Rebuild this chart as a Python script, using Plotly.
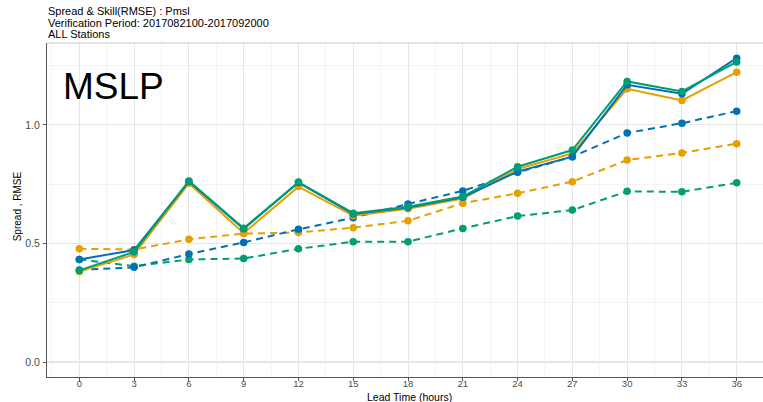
import plotly.graph_objects as go

lead = [0, 3, 6, 9, 12, 15, 18, 21, 24, 27, 30, 33, 36]

rmse_blue = [0.433, 0.473, 0.762, 0.562, 0.757, 0.625, 0.652, 0.695, 0.803, 0.866, 1.169, 1.131, 1.281]
rmse_orange = [0.382, 0.454, 0.754, 0.544, 0.740, 0.617, 0.647, 0.690, 0.814, 0.880, 1.152, 1.103, 1.222]
rmse_green = [0.387, 0.465, 0.764, 0.565, 0.759, 0.628, 0.655, 0.698, 0.824, 0.894, 1.183, 1.141, 1.265]

spread_blue = [0.389, 0.400, 0.456, 0.505, 0.560, 0.609, 0.667, 0.722, 0.800, 0.866, 0.966, 1.007, 1.058]
spread_orange = [0.478, 0.475, 0.518, 0.542, 0.547, 0.567, 0.596, 0.670, 0.712, 0.761, 0.852, 0.882, 0.921]
spread_green = [0.433, 0.405, 0.433, 0.437, 0.478, 0.508, 0.508, 0.564, 0.616, 0.641, 0.720, 0.718, 0.756]

x_ticks = [0, 3, 6, 9, 12, 15, 18, 21, 24, 27, 30, 33, 36]
y_ticks = [0.0, 0.5, 1.0]
y_tick_labels = ["0.0", "0.5", "1.0"]

BLUE = "#0072B2"
ORANGE = "#E69F00"
GREEN = "#009E73"

title_lines = ["Spread & Skill(RMSE) : Pmsl",
               "Verification Period: 2017082100-2017092000",
               "ALL Stations"]

fig = go.Figure()

series = [
    (spread_orange, ORANGE, "7px,5px"),
    (spread_green, GREEN, "7px,5px"),
    (spread_blue, BLUE, "7px,5px"),
    (rmse_orange, ORANGE, "solid"),
    (rmse_blue, BLUE, "solid"),
    (rmse_green, GREEN, "solid"),
]
for vals, col, dash in series:
    fig.add_trace(go.Scatter(
        x=lead, y=vals, mode="lines+markers",
        line=dict(color=col, width=2, dash=dash),
        marker=dict(color=col, size=7.5),
        showlegend=False, hoverinfo="skip"))

W, H = 763, 402
L, R, T, B = 46.7, 0, 43.3, 25.3
ph = H - T - B

def py(p):
    return (H - B - p) / ph

fig.add_shape(type="line", xref="paper", yref="y", x0=0, x1=1, y0=0, y1=0,
              line=dict(color="#8c8c8c", width=1), layer="between")
fig.add_shape(type="line", xref="paper", yref="paper", x0=0, x1=1, y0=1, y1=1,
              line=dict(color="#c8c8c8", width=1), layer="above")

font_main = "Liberation Sans, Arial, sans-serif"
font_tick = "Liberation Sans Narrow, Liberation Sans, Arial, sans-serif"

for txt, ypix in zip(title_lines, [11.7, 23.3, 34.3]):
    fig.add_annotation(text=txt, xref="paper", yref="paper", x=-0.001, y=py(ypix),
                       xanchor="left", yanchor="middle", showarrow=False,
                       font=dict(family=font_main, size=11, color="#000000"))

fig.add_annotation(text="MSLP", xref="x", yref="y", x=1.86, y=1.16,
                   xanchor="center", yanchor="middle", showarrow=False,
                   font=dict(family=font_main, size=37, color="#000000"))

fig.add_annotation(text="Spread , RMSE", xref="paper", yref="paper",
                   x=(18 - L) / (W - L), y=py(206), textangle=-90,
                   xanchor="center", yanchor="middle", showarrow=False,
                   font=dict(family=font_main, size=10, color="#000000"))
fig.add_annotation(text="Lead Time (hours)", xref="paper", yref="paper",
                   x=(409 - L) / (W - L), y=py(396.5),
                   xanchor="center", yanchor="middle", showarrow=False,
                   font=dict(family=font_main, size=10.5, color="#000000"))

fig.update_layout(
    width=W, height=H,
    margin=dict(l=L, r=R, t=T, b=B, pad=0),
    paper_bgcolor="white", plot_bgcolor="white",
    xaxis=dict(range=[-1.77, 37.44], tickmode="array", tickvals=x_ticks,
               ticktext=[str(v) for v in x_ticks],
               showgrid=True, gridcolor="#e6e6e6", gridwidth=1,
               minor=dict(showgrid=True, gridcolor="#f3f3f3", gridwidth=1,
                          tickmode="array",
                          tickvals=[v + 1.5 for v in x_ticks] + [-1.5]),
               showline=True, linecolor="#555555", linewidth=1,
               ticks="outside", ticklen=3, tickcolor="#555555",
               ticklabelstandoff=-5,
               tickfont=dict(family=font_tick, size=9.5, color="#4d4d4d"),
               zeroline=False, fixedrange=True),
    yaxis=dict(range=[-0.062, 1.345], tickmode="array", tickvals=y_ticks,
               ticktext=y_tick_labels,
               showgrid=True, gridcolor="#e6e6e6", gridwidth=1,
               minor=dict(showgrid=True, gridcolor="#f3f3f3", gridwidth=1,
                          tickmode="array", tickvals=[0.25, 0.75, 1.25]),
               showline=True, linecolor="#555555", linewidth=1,
               ticks="outside", ticklen=3, tickcolor="#555555",
               ticklabelstandoff=1,
               tickfont=dict(family=font_tick, size=10.5, color="#4d4d4d"),
               zeroline=False, fixedrange=True),
)

fig.write_html("out.html")
